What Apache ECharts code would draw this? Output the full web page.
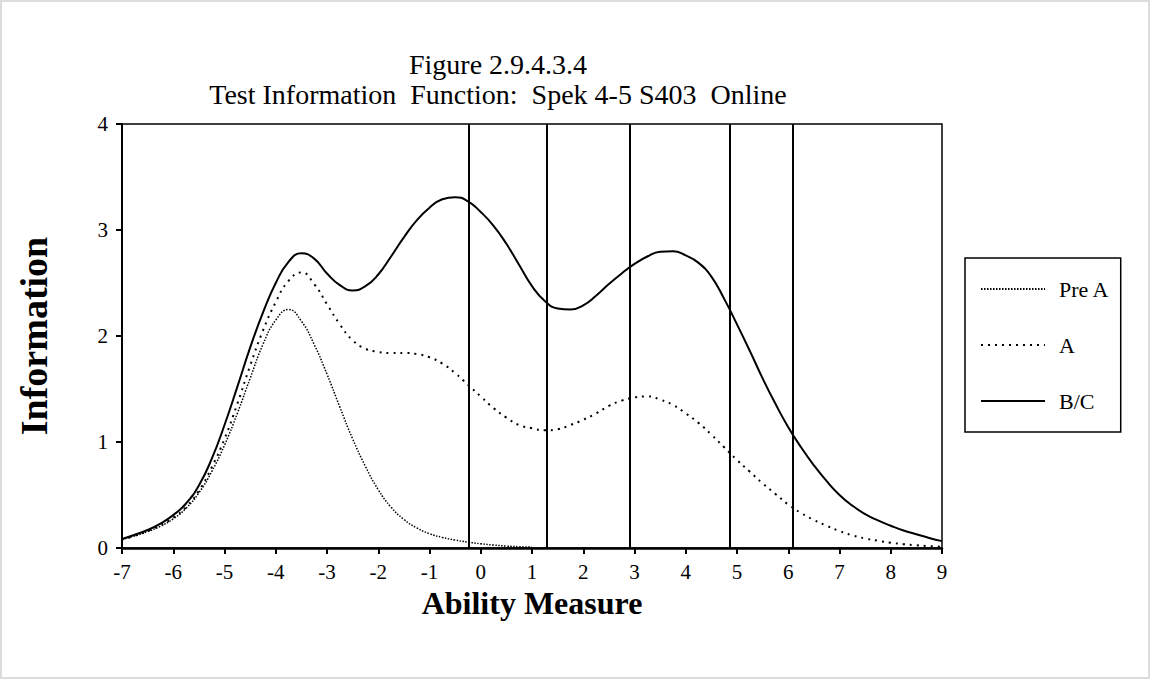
<!DOCTYPE html>
<html lang="en">
<head>
    <meta charset="utf-8">
    <title>Test Information Function</title>
    <script src="https://cdn.jsdelivr.net/npm/echarts@6/dist/echarts.min.js"></script>
    <style>
        html, body { margin: 0; padding: 0; background: #fff; }
        #main { width: 1150px; height: 679px; box-sizing: border-box; border: 2px solid #dcdcdc; }
    </style>
</head>
<body>
<div id="main"></div>
<script type="text/javascript">
    // ability measure (theta), step 0.25
    var theta = [-7, -6.75, -6.5, -6.25, -6, -5.75, -5.5, -5.25, -5, -4.75, -4.5, -4.25, -4, -3.75, -3.5, -3.25,
        -3, -2.75, -2.5, -2.25, -2, -1.75, -1.5, -1.25, -1, -0.75, -0.5, -0.25, 0, 0.25, 0.5, 0.75,
        1, 1.25, 1.5, 1.75, 2, 2.25, 2.5, 2.75, 3, 3.25, 3.5, 3.75, 4, 4.25, 4.5, 4.75,
        5, 5.25, 5.5, 5.75, 6, 6.25, 6.5, 6.75, 7, 7.25, 7.5, 7.75, 8, 8.25, 8.5, 8.75, 9];
    var bcValues = [0.085, 0.125, 0.17, 0.23, 0.31, 0.42, 0.59, 0.84, 1.16, 1.52, 1.89, 2.22, 2.5, 2.7, 2.78, 2.73,
        2.59, 2.48, 2.43, 2.47, 2.58, 2.75, 2.93, 3.09, 3.21, 3.29, 3.31, 3.27, 3.17, 3.04, 2.87, 2.67,
        2.47, 2.33, 2.26, 2.25, 2.29, 2.38, 2.49, 2.59, 2.68, 2.75, 2.795, 2.8, 2.76, 2.69, 2.56, 2.35,
        2.11, 1.86, 1.6, 1.36, 1.14, 0.95, 0.78, 0.63, 0.5, 0.4, 0.32, 0.26, 0.21, 0.165, 0.13, 0.095, 0.065];
    var aValues = [0.08, 0.115, 0.16, 0.215, 0.285, 0.385, 0.54, 0.76, 1.03, 1.36, 1.72, 2.05, 2.32, 2.52, 2.6, 2.49,
        2.3, 2.11, 1.96, 1.88, 1.85, 1.84, 1.84, 1.83, 1.8, 1.74, 1.65, 1.54, 1.43, 1.32, 1.23, 1.16,
        1.13, 1.11, 1.12, 1.16, 1.21, 1.27, 1.34, 1.39, 1.42, 1.43, 1.4, 1.35, 1.27, 1.18, 1.07, 0.95,
        0.83, 0.72, 0.61, 0.51, 0.41, 0.33, 0.265, 0.21, 0.16, 0.12, 0.09, 0.068, 0.05, 0.036, 0.026, 0.018, 0.012];
    // Pre A stops at theta = 1
    var preAValues = [0.08, 0.115, 0.155, 0.205, 0.275, 0.375, 0.52, 0.72, 0.97, 1.27, 1.6, 1.92, 2.15, 2.25, 2.14, 1.92,
        1.64, 1.33, 1.03, 0.77, 0.55, 0.385, 0.27, 0.19, 0.135, 0.1, 0.075, 0.055, 0.04, 0.028, 0.018, 0.012, 0.008];
    // cut points drawn as vertical lines
    var cutPoints = [-0.23, 1.28, 2.9, 4.85, 6.08];

    function pairs(xs, ys) {
        return ys.map(function (y, i) { return [xs[i], y]; });
    }

    var font = 'Liberation Serif';
    var myChart = echarts.init(document.getElementById('main'), null, {renderer: 'svg'});
    myChart.setOption({
        backgroundColor: '#ffffff',
        animation: false,
        textStyle: {fontFamily: font, color: '#000'},
        title: {
            text: 'Figure 2.9.4.3.4\nTest Information  Function:  Spek 4-5 S403  Online',
            left: 491,
            top: 42,
            textAlign: 'center',
            textStyle: {fontFamily: font, fontWeight: 'normal', fontSize: 28, lineHeight: 30, color: '#000'}
        },
        legend: {
            orient: 'vertical',
            left: 963,
            top: 256,
            padding: [20, 11, 20, 15],
            itemWidth: 64,
            itemHeight: 14,
            itemGap: 34,
            borderColor: '#000',
            borderWidth: 1.5,
            itemStyle: {opacity: 0},
            textStyle: {fontFamily: font, fontSize: 22, color: '#000', padding: [0, 0, 0, 9]},
            data: ['Pre A', 'A', 'B/C']
        },
        grid: {
            left: 120,
            right: 206,
            top: 122,
            bottom: 129,
            show: true,
            borderColor: '#000',
            borderWidth: 1.5
        },
        xAxis: {
            type: 'value',
            min: -7,
            max: 9,
            interval: 1,
            name: 'Ability Measure',
            nameLocation: 'middle',
            nameGap: 39,
            nameTextStyle: {fontFamily: font, fontSize: 32, fontWeight: 'bold', color: '#000'},
            axisLine: {onZero: false, lineStyle: {color: '#000', width: 2.5}},
            axisTick: {inside: false, length: 6, lineStyle: {color: '#000', width: 2}},
            axisLabel: {fontFamily: font, fontSize: 21, color: '#000', margin: 13},
            splitLine: {show: false}
        },
        yAxis: {
            type: 'value',
            min: 0,
            max: 4,
            interval: 1,
            name: 'Information',
            nameLocation: 'middle',
            nameRotate: 90,
            nameGap: 69,
            nameTextStyle: {fontFamily: font, fontSize: 38, fontWeight: 'bold', color: '#000'},
            axisLine: {show: true, onZero: false, lineStyle: {color: '#000', width: 2}},
            axisTick: {show: true, inside: false, length: 6, lineStyle: {color: '#000', width: 2}},
            axisLabel: {fontFamily: font, fontSize: 21, color: '#000', margin: 14},
            splitLine: {show: false}
        },
        series: [
            {
                name: 'Pre A',
                type: 'line',
                smooth: 0.5,
                symbol: 'none',
                lineStyle: {color: '#000', width: 1.5, type: [1.5, 1.5]},
                itemStyle: {color: '#000', opacity: 0},
                data: pairs(theta, preAValues)
            },
            {
                name: 'A',
                type: 'line',
                smooth: 0.5,
                symbol: 'none',
                lineStyle: {color: '#000', width: 2, type: [2, 5]},
                itemStyle: {color: '#000', opacity: 0},
                data: pairs(theta, aValues)
            },
            {
                name: 'B/C',
                type: 'line',
                smooth: 0.5,
                symbol: 'none',
                lineStyle: {color: '#000', width: 2},
                itemStyle: {color: '#000', opacity: 0},
                data: pairs(theta, bcValues),
                markLine: {
                    silent: true,
                    symbol: ['none', 'none'],
                    label: {show: false},
                    lineStyle: {color: '#000', width: 2, type: 'solid', opacity: 1},
                    data: cutPoints.map(function (c) { return {xAxis: c}; })
                }
            }
        ]
    });
</script>
</body>
</html>
